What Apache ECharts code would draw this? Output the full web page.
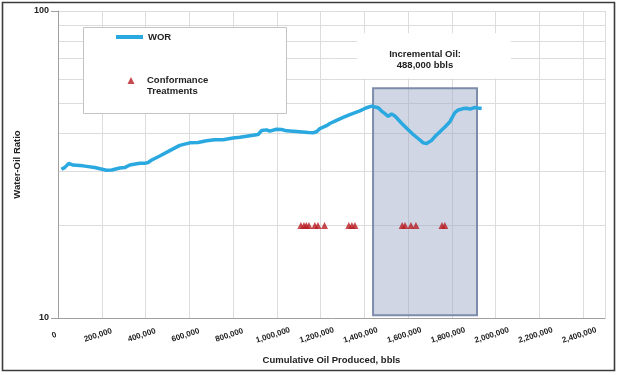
<!DOCTYPE html>
<html><head><meta charset="utf-8">
<script src="https://cdn.jsdelivr.net/npm/echarts@6/dist/echarts.min.js"></script>
<style>html,body{margin:0;padding:0;background:#fff}#c{width:620px;height:375px}</style>
</head><body><div id="c"></div>
<script>
// Cumulative oil produced (bbls) and water-oil ratio
const worCumOil = [15500, 30600, 48900, 68600, 114300, 167800, 221300, 245600, 282200, 305000,
  327900, 373600, 396500, 411600, 428500, 465100, 510800, 556500, 602300, 640200,
  678600, 716600, 754500, 800300, 830900, 891700, 914600, 930100, 953000, 968100,
  998700, 1021600, 1044500, 1090200, 1143300, 1166100, 1183000, 1196800, 1227400, 1242500,
  1273100, 1303300, 1333900, 1379700, 1407100, 1433200, 1448300, 1463400, 1478900, 1494000,
  1509100, 1524600, 1539700, 1570400, 1594600, 1623400, 1654100, 1669100, 1684700, 1707600,
  1727200, 1745500, 1768400, 1791200, 1814100, 1829200, 1852100, 1867600, 1882700, 1905600,
  1919300, 1936200];
const worValues = [30.5, 30.9, 31.9, 31.5, 31.3, 30.9, 30.3, 30.35, 30.8, 30.9,
  31.5, 31.9, 31.9, 32.1, 32.7, 33.7, 35.1, 36.5, 37.2, 37.3,
  37.8, 38.1, 38.1, 38.6, 38.8, 39.4, 39.6, 40.8, 41.0, 40.6,
  41.2, 41.1, 40.7, 40.5, 40.2, 40.1, 40.5, 41.4, 42.3, 43.0,
  44.0, 45.0, 46.0, 47.3, 48.3, 49.0, 48.7, 48.4, 47.2, 46.3,
  45.4, 46.2, 45.5, 43.1, 41.4, 39.6, 38.0, 37.2, 37.0, 37.9,
  39.3, 40.4, 41.9, 43.6, 46.7, 47.6, 48.1, 48.2, 47.9, 48.5,
  48.3, 48.1];
// Conformance treatments
const treatmentCumOil = [1110000, 1124000, 1135000, 1147000, 1174000, 1188000, 1218000,
  1329000, 1343000, 1357000, 1573000, 1586000, 1613000, 1636000, 1755000, 1768000];
const treatmentWor = [20, 20, 20, 20, 20, 20, 20, 20, 20, 20, 20, 20, 20, 20, 20, 20];
// Incremental oil window
const incrementalRange = [1440000, 1915000];
const incrementalWorRange = [10.2, 56];
const incrementalLabel = 'Incremental Oil:\n488,000 bbls';
// axes
const xMin = 0, xMax = 2500000, xInterval = 200000;
const yMin = 10, yMax = 100;
const yMinorGrid = [20, 30, 40, 50, 60, 70, 80, 90];

const FONT = '"Liberation Sans", Arial, Helvetica, sans-serif';
const chart = echarts.init(document.getElementById('c'), null, {renderer: 'canvas'});
chart.setOption({
  animation: false,
  textStyle: {fontFamily: FONT},
  grid: {left: 58, right: 15, top: 11, bottom: 57},
  graphic: [
    {type: 'rect', z: 3, silent: true, shape: {x: 83.5, y: 27.5, width: 203, height: 86},
     style: {fill: '#fff', stroke: '#c4c4c4', lineWidth: 1}},
    {type: 'rect', z: 10, silent: true, shape: {x: 2.5, y: 2.5, width: 612, height: 368},
     style: {fill: null, stroke: '#3c3c3c', lineWidth: 1.6}}
  ],
  legend: [
    {data: [{name: 'WOR', icon: 'rect'}], left: 116, top: 32, padding: 0, itemWidth: 27, itemHeight: 4, z: 5,
     textStyle: {fontSize: 9.5, fontWeight: 'bold', color: '#222', fontFamily: FONT}},
    {data: [{name: 'Conformance Treatments', icon: 'triangle'}],
     formatter: () => '{s|}\n{s|}{t|Conformance}\n{s|}{t|Treatments}',
     left: 127.5, top: 64, padding: 0, itemWidth: 7, itemHeight: 7, z: 5,
     textStyle: {fontSize: 9.5, fontWeight: 'bold', color: '#222', fontFamily: FONT, lineHeight: 11,
       rich: {
         s: {width: 7.5, lineHeight: 11, fontSize: 9.5},
         t: {fontSize: 9.5, fontWeight: 'bold', color: '#222', fontFamily: FONT, lineHeight: 11}
       }}}
  ],
  xAxis: {
    type: 'value', min: xMin, max: xMax, interval: xInterval,
    name: 'Cumulative Oil Produced, bbls', nameLocation: 'middle', nameGap: 37,
    nameTextStyle: {fontSize: 9.5, fontWeight: 'bold', color: '#222'},
    axisLine: {show: true, lineStyle: {color: '#a0a0a0', width: 1}},
    axisTick: {show: false},
    splitLine: {show: true, lineStyle: {color: '#dcdcdc', width: 1}},
    axisLabel: {
      rotate: 18, align: 'center', verticalAlign: 'middle', margin: 16,
      padding: [0, 8, 0, 0],
      fontSize: 8, fontWeight: 'bold', color: '#222',
      formatter: v => (v >= xMax ? '' : v.toLocaleString('en-US'))
    }
  },
  yAxis: {
    type: 'log', logBase: 10, min: yMin, max: yMax,
    name: 'Water-Oil Ratio', nameLocation: 'middle', nameGap: 36,
    nameTextStyle: {fontSize: 9.5, fontWeight: 'bold', color: '#222'},
    axisLine: {show: true, lineStyle: {color: '#a0a0a0', width: 1}},
    axisTick: {show: true, length: 7, lineStyle: {color: '#a0a0a0'}},
    splitLine: {show: true, lineStyle: {color: '#dcdcdc', width: 1}},
    axisLabel: {fontSize: 9, fontWeight: 'bold', color: '#222', margin: 9}
  },
  series: [
    {
      name: 'WOR', type: 'line', symbol: 'none', z: 3,
      data: worCumOil.map((x, i) => [x, worValues[i]]),
      lineStyle: {color: '#2aa8e0', width: 3.5},
      itemStyle: {color: '#2aa8e0'},
      markLine: {
        silent: true, symbol: 'none', z: 0,
        label: {show: false},
        lineStyle: {color: '#dcdcdc', width: 1, type: 'solid'},
        data: yMinorGrid.map(v => ({yAxis: v}))
      }
    },
    {
      name: 'Conformance Treatments', type: 'scatter', symbol: 'triangle', symbolSize: [7, 7], z: 4,
      data: treatmentCumOil.map((x, i) => [x, treatmentWor[i]]),
      itemStyle: {color: '#b81c22'},
      markArea: {
        silent: true, z: 1,
        itemStyle: {color: 'rgba(150,165,195,0.45)', borderColor: '#7d8cab', borderWidth: 2},
        label: {
          show: true, position: 'top', distance: 9, offset: [9, 0],
          formatter: incrementalLabel, fontSize: 9.5, fontWeight: 'bold', color: '#222',
          lineHeight: 11, backgroundColor: '#fff', padding: [16, 50, 7, 32]
        },
        data: [[{coord: [incrementalRange[0], incrementalWorRange[0]]},
                {coord: [incrementalRange[1], incrementalWorRange[1]]}]]
      }
    }
  ]
});
</script></body></html>
